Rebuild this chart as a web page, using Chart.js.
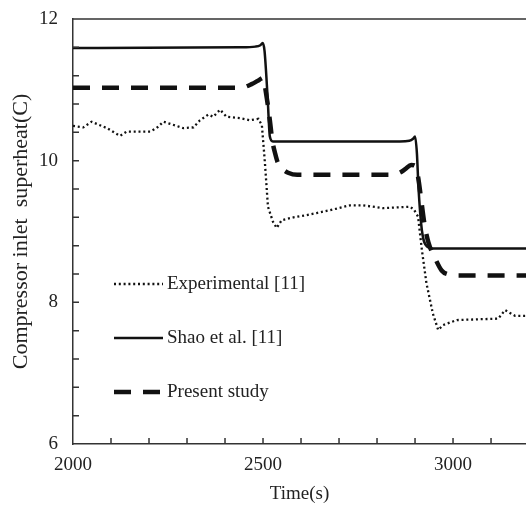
<!DOCTYPE html>
<html>
<head>
<meta charset="utf-8">
<title>Compressor inlet superheat</title>
<script src="https://cdn.jsdelivr.net/npm/chart.js@4.4.1/dist/chart.umd.min.js"></script>
<style>
  html, body { margin: 0; padding: 0; background: #fff; overflow: hidden; }
  #wrap { width: 526px; height: 508px; }
</style>
</head>
<body>
<div id="wrap"><canvas id="chart"></canvas></div>
<script>
"use strict";

/**************************************************************
 * Data
 **************************************************************/
const seriesLabels = ["Experimental [11]", "Shao et al. [11]", "Present study"];

const expTime = [
  2000, 2027, 2049, 2071, 2089, 2111, 2124, 2141, 2203, 2220, 2238, 2273,
  2290, 2317, 2334, 2356, 2369, 2387, 2404, 2439, 2466, 2488, 2497, 2505,
  2513, 2526, 2536, 2549, 2580, 2614, 2641, 2676, 2729, 2763, 2816, 2887,
  2897, 2908, 2918, 2930, 2947, 2961, 2974, 3010, 3119, 3137, 3163, 3192,
];
const expValue = [
  10.49, 10.47, 10.55, 10.50, 10.46, 10.39, 10.35, 10.41, 10.41, 10.46, 10.55, 10.49,
  10.46, 10.47, 10.57, 10.65, 10.62, 10.72, 10.62, 10.60, 10.57, 10.59, 10.50, 9.97,
  9.35, 9.14, 9.05, 9.16, 9.20, 9.23, 9.26, 9.30, 9.37, 9.37, 9.33, 9.35,
  9.31, 9.21, 8.74, 8.27, 7.84, 7.61, 7.68, 7.75, 7.77, 7.89, 7.81, 7.81,
];

const shaoTime = [
  2000, 2440, 2480, 2493, 2499, 2504, 2512, 2518, 2526, 2540,
  2860, 2885, 2895, 2900, 2905, 2909, 2918, 2931, 2947, 3192,
];
const shaoValue = [
  11.59, 11.60, 11.61, 11.63, 11.66, 11.55, 10.90, 10.34, 10.27, 10.27,
  10.27, 10.28, 10.31, 10.34, 10.10, 9.63, 9.02, 8.79, 8.76, 8.76,
];

const presentTime = [
  2000, 2440, 2470, 2490, 2500, 2508, 2518, 2524, 2532, 2539, 2552, 2566, 2590, 2610,
  2840, 2860, 2874, 2890, 2900, 2908, 2915, 2925, 2935, 2953, 2970, 2990, 3010, 3192,
];
const presentValue = [
  11.03, 11.03, 11.08, 11.14, 11.17, 10.95, 10.57, 10.30, 10.10, 9.97, 9.88, 9.83, 9.80, 9.80,
  9.80, 9.83, 9.88, 9.94, 9.93, 9.77, 9.50, 9.10, 8.85, 8.62, 8.45, 8.39, 8.38, 8.38,
];

const xTickLabels = [2000, 2500, 3000];
const yTickLabels = [6, 8, 10, 12];

/**************************************************************
 * Look
 **************************************************************/
const X_MIN = 2000;
const X_MAX = 3192;
const Y_MIN = 6;
const Y_MAX = 12;
const X_MINOR = 100;
const Y_MINOR = 0.4;
const TICK_LEN = 6;
const AXIS_COLOR = "#333";
const TEXT_COLOR = "#222";
const FONT_FAMILY = "'Liberation Serif', 'Times New Roman', serif";

function toPoints(times, values) {
  return times.map((t, i) => ({ x: t, y: values[i] }));
}

/**************************************************************
 * Plugins
 **************************************************************/
const inwardTicks = {
  id: "inwardTicks",
  afterDraw(chart) {
    const { ctx, chartArea, scales } = chart;
    ctx.save();
    ctx.strokeStyle = AXIS_COLOR;
    ctx.lineWidth = 1.5;
    ctx.beginPath();
    for (let k = 1; X_MIN + k * X_MINOR < X_MAX; k++) {
      const px = scales.x.getPixelForValue(X_MIN + k * X_MINOR);
      ctx.moveTo(px, chartArea.bottom);
      ctx.lineTo(px, chartArea.bottom - TICK_LEN);
    }
    for (let k = 1; Y_MIN + k * Y_MINOR < Y_MAX - 1e-6; k++) {
      const py = scales.y.getPixelForValue(Y_MIN + k * Y_MINOR);
      ctx.moveTo(chartArea.left, py);
      ctx.lineTo(chartArea.left + TICK_LEN, py);
    }
    // top frame line
    ctx.moveTo(chartArea.left, chartArea.top);
    ctx.lineTo(chartArea.right, chartArea.top);
    ctx.stroke();
    ctx.restore();
  },
};

const legendRows = [284, 338, 392];

const inlineLegend = {
  id: "inlineLegend",
  afterDraw(chart) {
    const { ctx } = chart;
    ctx.save();
    chart.data.datasets.forEach((ds, i) => {
      const y = legendRows[i];
      ctx.strokeStyle = ds.borderColor;
      ctx.lineWidth = ds.borderWidth;
      ctx.setLineDash(ds.borderDash || []);
      ctx.beginPath();
      ctx.moveTo(114, y);
      ctx.lineTo(163, y);
      ctx.stroke();

      ctx.setLineDash([]);
      ctx.fillStyle = TEXT_COLOR;
      ctx.font = `19px ${FONT_FAMILY}`;
      ctx.textBaseline = "middle";
      ctx.fillText(ds.label, 167, y);
    });
    ctx.restore();
  },
};

/**************************************************************
 * Chart
 **************************************************************/
const ctx = document.getElementById("chart").getContext("2d");

new Chart(ctx, {
  type: "line",
  data: {
    datasets: [
      {
        label: seriesLabels[0],
        data: toPoints(expTime, expValue),
        borderColor: "#111",
        borderWidth: 2.3,
        borderDash: [2, 2.8],
        tension: 0,
      },
      {
        label: seriesLabels[1],
        data: toPoints(shaoTime, shaoValue),
        borderColor: "#111",
        borderWidth: 2.5,
        cubicInterpolationMode: "monotone",
      },
      {
        label: seriesLabels[2],
        data: toPoints(presentTime, presentValue),
        borderColor: "#111",
        borderWidth: 4.5,
        borderDash: [17, 12],
        cubicInterpolationMode: "monotone",
      },
    ],
  },
  options: {
    responsive: true,
    maintainAspectRatio: false,
    animation: false,
    layout: { padding: { top: 19, right: 0, left: 0, bottom: 0 } },
    elements: { point: { radius: 0 } },
    plugins: {
      legend: { display: false },
      tooltip: { enabled: false },
    },
    scales: {
      x: {
        type: "linear",
        min: X_MIN,
        max: X_MAX,
        afterBuildTicks: (scale) => {
          scale.ticks = xTickLabels.map((v) => ({ value: v }));
        },
        afterFit: (scale) => {
          scale.height = 64;
        },
        ticks: {
          autoSkip: false,
          maxRotation: 0,
          padding: 10,
          color: TEXT_COLOR,
          font: { family: FONT_FAMILY, size: 19 },
          callback: (v) => String(v),
        },
        grid: { display: false, drawTicks: false },
        border: { display: true, color: AXIS_COLOR, width: 1.5 },
        title: {
          display: true,
          text: "Time(s)",
          color: TEXT_COLOR,
          font: { family: FONT_FAMILY, size: 19 },
          padding: { top: 0, bottom: 3 },
        },
      },
      y: {
        min: Y_MIN,
        max: Y_MAX,
        afterBuildTicks: (scale) => {
          scale.ticks = yTickLabels.map((v) => ({ value: v }));
        },
        afterFit: (scale) => {
          scale.width = 73;
          // tick padding would otherwise push the plot top down
          scale.paddingTop = 0;
          scale.paddingBottom = 0;
        },
        ticks: {
          padding: 15,
          color: TEXT_COLOR,
          font: { family: FONT_FAMILY, size: 19 },
          callback: (v) => String(v),
        },
        grid: { display: false, drawTicks: false },
        border: { display: true, color: AXIS_COLOR, width: 1.5 },
        title: {
          display: true,
          text: "Compressor inlet  superheat(C)",
          color: TEXT_COLOR,
          font: { family: FONT_FAMILY, size: 22 },
          padding: { top: 8, bottom: 0 },
        },
      },
    },
  },
  plugins: [inwardTicks, inlineLegend],
});
</script>
</body>
</html>
